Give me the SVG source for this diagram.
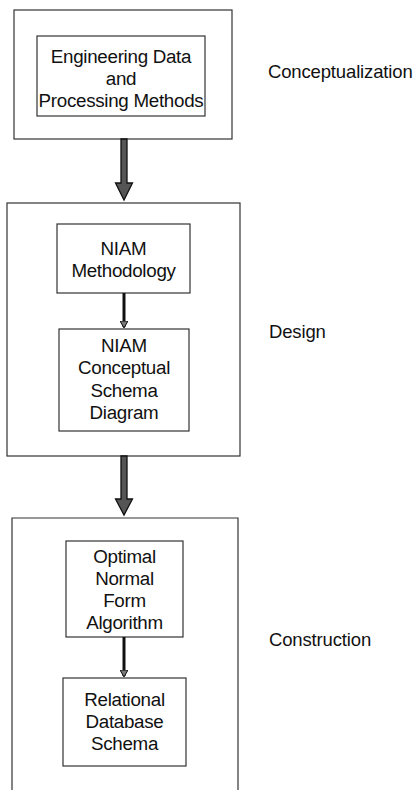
<svg xmlns="http://www.w3.org/2000/svg" width="419" height="790" viewBox="0 0 419 790">
<style>
.frame{fill:none;stroke:#333;stroke-width:1.2}
.box{fill:#fff;stroke:#333;stroke-width:1.2}
.t{font-family:"Liberation Sans",Arial,sans-serif;font-size:18.8px;fill:#111;text-anchor:middle;letter-spacing:-0.3px}
.lbl{font-family:"Liberation Sans",Arial,sans-serif;font-size:18.5px;fill:#111;letter-spacing:-0.15px}
.big{fill:#555;stroke:#111;stroke-width:1.3}
.thin{stroke:#111;stroke-width:3;fill:none}
</style>
<defs>
<marker id="sm" markerWidth="8" markerHeight="8" refX="6" refY="4" orient="auto" markerUnits="userSpaceOnUse">
<path d="M0,0 L7,4 L0,8 Z" fill="#777" stroke="#111" stroke-width="1"/>
</marker>
</defs>
<g id="phase-conceptualization">
<rect class="frame" x="14" y="10" width="218" height="129"/>
</g>
<g id="engineering-data">
<rect class="box" x="37" y="36" width="168" height="80"/>
<text class="t" x="121" y="63">Engineering Data</text>
<text class="t" x="121" y="85">and</text>
<text class="t" x="121" y="107">Processing Methods</text>
</g>
<g id="phase-design">
<rect class="frame" x="7" y="203" width="233" height="253"/>
</g>
<g id="niam-methodology">
<rect class="box" x="57" y="224" width="133" height="69"/>
<text class="t" x="123.5" y="255">NIAM</text>
<text class="t" x="123.5" y="277">Methodology</text>
</g>
<g id="niam-schema">
<rect class="box" x="59" y="329" width="130" height="102"/>
<text class="t" x="124" y="352">NIAM</text>
<text class="t" x="124" y="374">Conceptual</text>
<text class="t" x="124" y="397">Schema</text>
<text class="t" x="124" y="419">Diagram</text>
</g>
<g id="phase-construction">
<polyline class="frame" points="12,790 12,518 238,518 238,790"/>
</g>
<g id="optimal-normal-form">
<rect class="box" x="66" y="541" width="117" height="96"/>
<text class="t" x="124.5" y="563">Optimal</text>
<text class="t" x="124.5" y="585">Normal</text>
<text class="t" x="124.5" y="607">Form</text>
<text class="t" x="124.5" y="629">Algorithm</text>
</g>
<g id="relational-schema">
<rect class="box" x="63" y="678" width="123" height="88"/>
<text class="t" x="124.5" y="706">Relational</text>
<text class="t" x="124.5" y="728">Database</text>
<text class="t" x="124.5" y="750">Schema</text>
</g>
<g id="labels">
<text class="lbl" x="268" y="78">Conceptualization</text>
<text class="lbl" x="269" y="338">Design</text>
<text class="lbl" x="269" y="646">Construction</text>
</g>
<g id="connectors">
<path class="big" d="M121,139 L127,139 L127,183 L132.5,183 L124,200 L115.5,183 L121,183 Z"/>
<path class="big" d="M121,456 L127,456 L127,499 L132.5,499 L124,515 L115.5,499 L121,499 Z"/>
<line class="thin" x1="124" y1="293" x2="124" y2="327" marker-end="url(#sm)"/>
<line class="thin" x1="124" y1="637" x2="124" y2="676" marker-end="url(#sm)"/>
</g>
</svg>
